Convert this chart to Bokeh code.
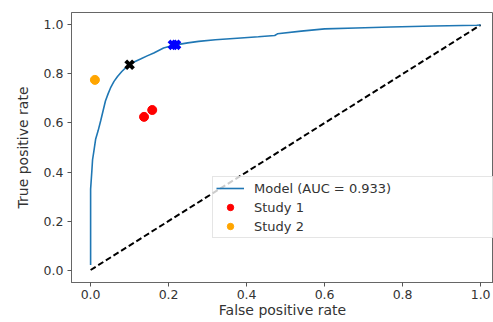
from bokeh.plotting import figure
from bokeh.models import Range1d, FixedTicker, Legend, LegendItem
from bokeh.embed import file_html
from bokeh.resources import INLINE

# ROC curve of the model
model_fpr = [0.0, 0.0, 0.0, 0.003, 0.005, 0.0085, 0.013, 0.019, 0.026, 0.032, 0.038, 0.045,
             0.051, 0.06, 0.069, 0.08, 0.095, 0.11, 0.128, 0.145, 0.162, 0.187, 0.215,
             0.249, 0.277, 0.32, 0.385, 0.43, 0.472, 0.479, 0.54, 0.6, 0.68, 0.77,
             0.88, 0.99, 1.0]
model_tpr = [0.02, 0.2, 0.33, 0.40, 0.45, 0.486, 0.535, 0.567, 0.61, 0.65, 0.69, 0.72,
             0.743, 0.77, 0.79, 0.81, 0.833, 0.848, 0.861, 0.874, 0.886, 0.906, 0.918,
             0.927, 0.933, 0.94, 0.947, 0.952, 0.957, 0.964, 0.975, 0.984, 0.988, 0.992,
             0.996, 0.999, 1.0]
model_label = "Model (AUC = 0.933)"

study1_fpr = [0.137, 0.158]
study1_tpr = [0.625, 0.653]
study2_fpr = [0.011]
study2_tpr = [0.776]

black_x_fpr = [0.10]
black_x_tpr = [0.838]
blue_x_fpr = [0.211, 0.219]
blue_x_tpr = [0.919, 0.919]

diag_x = [0.0, 1.0]
diag_y = [0.0, 1.0]

tick_values = [0.0, 0.2, 0.4, 0.6, 0.8, 1.0]
tick_labels = ["0.0", "0.2", "0.4", "0.6", "0.8", "1.0"]

p = figure(width=493, height=322, output_backend="svg", toolbar_location=None,
           x_range=Range1d(-0.049, 1.033), y_range=Range1d(-0.051, 1.051),
           min_border_left=71, min_border_right=0, min_border_top=12, min_border_bottom=40)
p.background_fill_color = "white"
p.border_fill_color = "white"
p.outline_line_color = "#666666"
p.outline_line_width = 1
p.xgrid.visible = False
p.ygrid.visible = False

diag = p.line(diag_x, diag_y, line_color="black", line_width=2, line_dash="6 3")
model = p.line(model_fpr, model_tpr, line_color="#1f77b4", line_width=1.6)
s1 = p.scatter(study1_fpr, study1_tpr, marker="circle", size=9, fill_color="red", line_color="red")
s2 = p.scatter(study2_fpr, study2_tpr, marker="circle", size=9, fill_color="orange", line_color="orange")
p.scatter(black_x_fpr, black_x_tpr, marker="x", size=11, line_color="black", line_width=4)
p.scatter(blue_x_fpr, blue_x_tpr, marker="x", size=11, line_color="blue", line_width=4)

for ax, lab in ((p.xaxis[0], "False positive rate"), (p.yaxis[0], "True positive rate")):
    ax.ticker = FixedTicker(ticks=tick_values)
    ax.major_label_overrides = {v: t for v, t in zip(tick_values, tick_labels)}
    ax.minor_tick_line_color = None
    ax.major_tick_out = 4
    ax.major_tick_in = 0
    ax.major_tick_line_color = "#555555"
    ax.axis_line_color = "#666666"
    ax.major_label_text_font = "DejaVu Sans"
    ax.major_label_text_font_size = "12.5px"
    ax.major_label_text_color = "#333333"
    ax.axis_label = lab
    ax.axis_label_text_font = "DejaVu Sans"
    ax.axis_label_text_font_size = "14px"
    ax.axis_label_text_font_style = "normal"
    ax.axis_label_text_color = "#333333"

p.xaxis[0].major_label_standoff = 3
p.xaxis[0].axis_label_standoff = 0
p.yaxis[0].major_label_standoff = 4
p.yaxis[0].axis_label_standoff = 10

legend = Legend(items=[LegendItem(label=model_label, renderers=[model]),
                       LegendItem(label="Study 1", renderers=[s1]),
                       LegendItem(label="Study 2", renderers=[s2])],
                location=(141, 44))
legend.label_text_font = "DejaVu Sans"
legend.label_text_font_size = "13px"
legend.label_text_color = "#333333"
legend.glyph_width = 28
legend.glyph_height = 16
legend.label_height = 16
legend.label_width = 236
legend.label_standoff = 10
legend.spacing = 3
legend.padding = 3
legend.margin = 0
legend.border_line_color = "#cccccc"
legend.background_fill_alpha = 0.8
p.add_layout(legend, "center")

open("out.html", "w").write(file_html(p, INLINE))
